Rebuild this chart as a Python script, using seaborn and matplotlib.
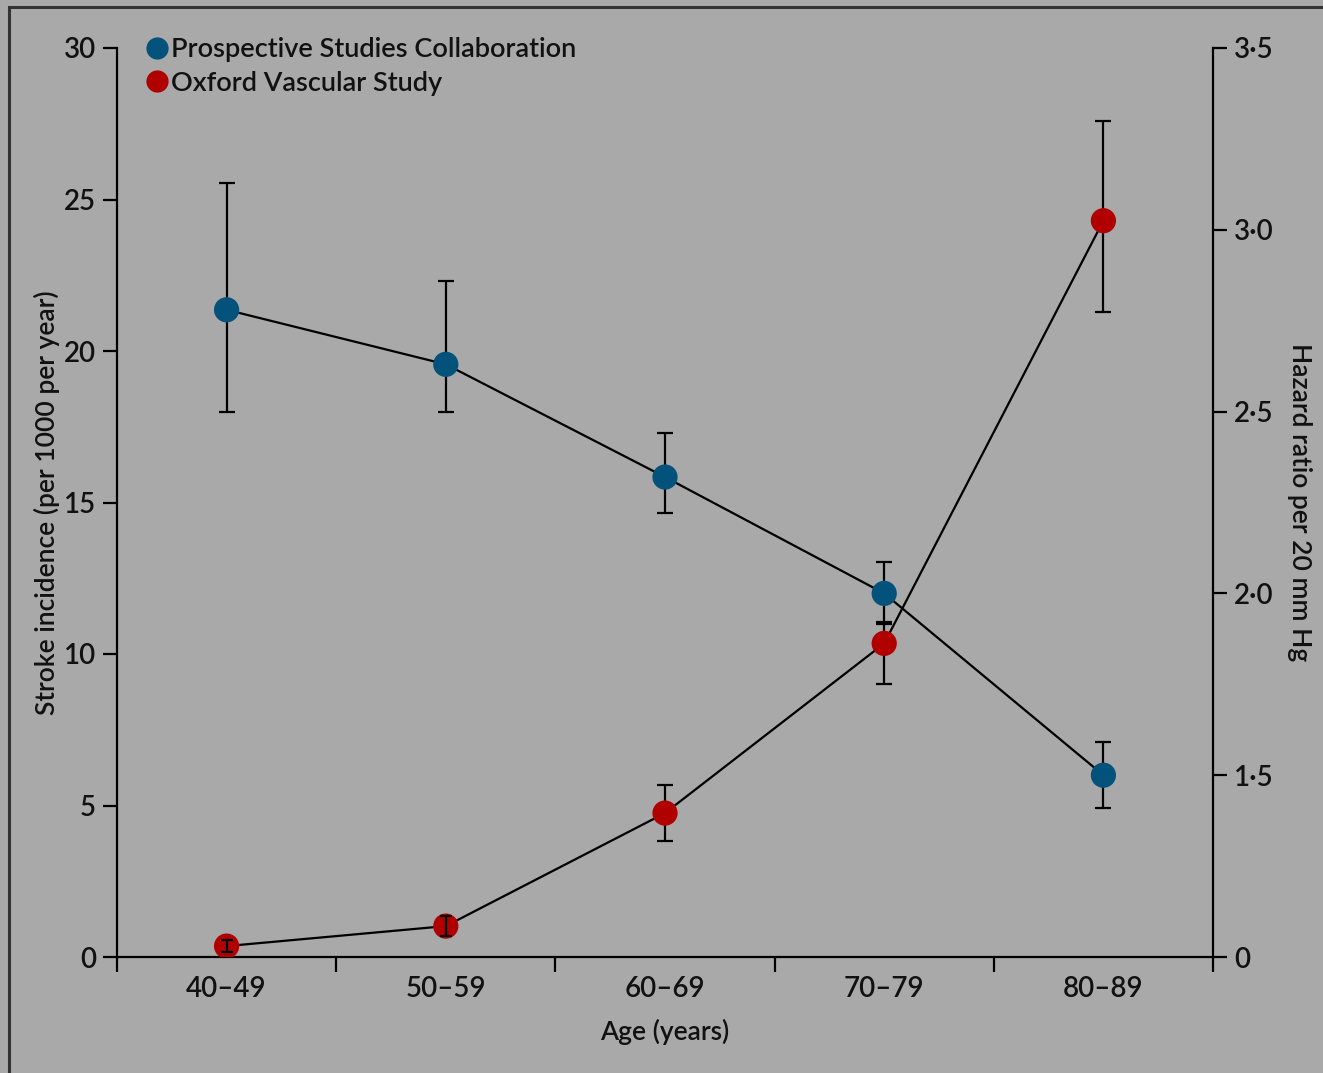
import numpy as np
import pandas as pd
import matplotlib
matplotlib.use("Agg")
import matplotlib.pyplot as plt
from matplotlib.lines import Line2D
from matplotlib.patches import Rectangle
import seaborn as sns

# Age bands shared by both studies
age_groups = ["40–49", "50–59", "60–69", "70–79", "80–89"]

# Prospective Studies Collaboration: hazard ratio per 20 mm Hg (right axis)
psc_hr = [2.78, 2.63, 2.32, 2.00, 1.50]
psc_lo = [2.50, 2.50, 2.22, 1.915, 1.41]
psc_hi = [3.13, 2.86, 2.44, 2.085, 1.59]

# Oxford Vascular Study: stroke incidence per 1000 per year (left axis)
oxvasc_inc = [0.36, 1.02, 4.75, 10.35, 24.3]
oxvasc_lo = [0.17, 0.69, 3.83, 9.01, 21.3]
oxvasc_hi = [0.56, 1.35, 5.68, 11.06, 27.6]

left_ticks = [0, 5, 10, 15, 20, 25, 30]
right_ticks = [1.0, 1.5, 2.0, 2.5, 3.0, 3.5]
right_tick_labels = ["0", "1·5", "2·0", "2·5", "3·0", "3·5"]

BG = "#a9a9a9"
BLUE = "#03527c"
RED = "#b00000"
INK = "#111111"
FONT = ["Lato", "DejaVu Sans"]

sns.set_theme(style="ticks")
plt.rcParams["font.family"] = FONT
plt.rcParams["font.weight"] = "semibold"
plt.rcParams["axes.labelweight"] = "semibold"
plt.rcParams["axes.facecolor"] = BG
plt.rcParams["figure.facecolor"] = BG
plt.rcParams["text.color"] = INK
plt.rcParams["axes.labelcolor"] = INK
plt.rcParams["xtick.labelcolor"] = INK
plt.rcParams["ytick.labelcolor"] = INK

pos = np.arange(len(age_groups)) + 0.5
psc = pd.DataFrame({"pos": pos, "hr": psc_hr, "lo": psc_lo, "hi": psc_hi})
ox = pd.DataFrame({"pos": pos, "inc": oxvasc_inc, "lo": oxvasc_lo, "hi": oxvasc_hi})

fig = plt.figure(figsize=(13.23, 10.73), dpi=100)
ax = fig.add_axes([117 / 1323, 1 - 957 / 1073, (1213 - 117) / 1323, (957 - 48) / 1073])
ax2 = ax.twinx()
ax.set_zorder(2)
ax2.set_zorder(1)
ax.patch.set_visible(False)
ax2.patch.set_visible(False)

# Oxford Vascular Study on the left axis
sns.lineplot(data=ox, x="pos", y="inc", color="black", lw=1.6, ax=ax, zorder=2)
big = (ox["hi"] - ox["lo"]) > 1.0
ax.errorbar(ox["pos"][big], ox["inc"][big],
            yerr=[(ox["inc"] - ox["lo"])[big], (ox["hi"] - ox["inc"])[big]],
            fmt="none", ecolor="black", elinewidth=1.6, capsize=6, capthick=1.6, zorder=3)
sns.scatterplot(data=ox, x="pos", y="inc", color=RED, s=330, edgecolor="none",
                ax=ax, zorder=4, legend=False)
# short intervals sit inside the marker, so they are drawn over it
ax.errorbar(ox["pos"][~big], ox["inc"][~big],
            yerr=[(ox["inc"] - ox["lo"])[~big], (ox["hi"] - ox["inc"])[~big]],
            fmt="none", ecolor="black", elinewidth=1.6, capsize=4, capthick=1.6, zorder=5)

# Prospective Studies Collaboration on the right axis
sns.lineplot(data=psc, x="pos", y="hr", color="black", lw=1.6, ax=ax2, zorder=2)
ax2.errorbar(psc["pos"], psc["hr"], yerr=[psc["hr"] - psc["lo"], psc["hi"] - psc["hr"]],
             fmt="none", ecolor="black", elinewidth=1.6, capsize=6, capthick=1.6, zorder=3)
sns.scatterplot(data=psc, x="pos", y="hr", color=BLUE, s=330, edgecolor="none",
                ax=ax2, zorder=4, legend=False)

# Axes limits and ticks
ax.set_xlim(0, len(age_groups))
ax.set_ylim(0, 30)
ax2.set_ylim(1.0, 3.5)

ax.set_xticks(np.arange(len(age_groups) + 1))
ax.set_xticklabels([])
ax.set_xticks(pos, minor=True)
ax.set_xticklabels(age_groups, minor=True)
ax.tick_params(axis="x", which="major", direction="out", length=11, width=1.6, color="black")
ax.tick_params(axis="x", which="minor", length=0, pad=14, labelsize=20)

ax.set_yticks(left_ticks)
ax.set_yticklabels([str(t) for t in left_ticks])
ax.tick_params(axis="y", direction="out", length=10, width=1.6, color="black", pad=5, labelsize=20)

ax2.set_yticks(right_ticks)
ax2.set_yticklabels(right_tick_labels)
ax2.tick_params(axis="y", direction="out", length=10, width=1.6, color="black", pad=5, labelsize=20)

for a in (ax, ax2):
    a.spines["top"].set_visible(False)
    for s in ("left", "right", "bottom"):
        a.spines[s].set_linewidth(1.6)
        a.spines[s].set_color("black")
ax.spines["right"].set_visible(False)
ax2.spines["left"].set_visible(False)
ax2.spines["bottom"].set_visible(False)

ax.set_xlabel("Age (years)", fontsize=19, labelpad=12)
ax.set_ylabel("Stroke incidence (per 1000 per year)", fontsize=19, labelpad=3)
ax2.set_ylabel("Hazard ratio per 20 mm Hg", fontsize=19, rotation=-90, labelpad=28)

# Legend
handles = [
    Line2D([], [], marker="o", ls="none", color=BLUE, markersize=16, markeredgewidth=0),
    Line2D([], [], marker="o", ls="none", color=RED, markersize=16, markeredgewidth=0),
]
fig.legend(handles, ["Prospective Studies Collaboration", "Oxford Vascular Study"],
           loc="upper left", bbox_to_anchor=(143 / 1323, 1 - 37 / 1073), frameon=False,
           prop={"size": 19.5, "weight": "semibold"}, handletextpad=0.05,
           labelspacing=0.32, borderaxespad=0, borderpad=0, handlelength=1.0)

# Outer frame
fig.patches.append(Rectangle((9 / 1323, -0.05), 1.2, 1 - 7 / 1073 + 0.05,
                             transform=fig.transFigure, fill=False,
                             edgecolor="#333333", lw=2.2))

fig.savefig("out.png", dpi=100, facecolor=BG)
